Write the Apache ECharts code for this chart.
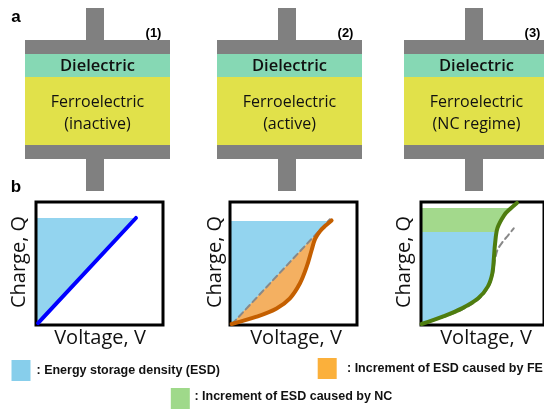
<!DOCTYPE html>
<html><head><meta charset="utf-8">
<script src="https://cdn.jsdelivr.net/npm/echarts@6/dist/echarts.min.js"></script>
<style>html,body{margin:0;padding:0;background:#fff}#c{width:544px;height:409px}</style>
</head><body><div id="c"></div><script>
// ---- text content ----
const panelLetters = ['a', 'b'];
const capLabels = ['(1)', '(2)', '(3)'];
const feStates = ['(inactive)', '(active)', '(NC regime)'];
const layerNames = ['Dielectric', 'Ferroelectric'];
const xAxisTitle = 'Voltage, V';
const yAxisTitle = 'Charge, Q';
const legendTexts = [': Energy storage density (ESD)', ': Increment of ESD caused by FE', ': Increment of ESD caused by NC'];

// ---- data (axes 0..100 in each panel) ----
const linearQV1 = [[1.6, 1.6], [78.7, 87]];
const esdTop1 = 87;

const dashedLinear2 = [[1.6, 0.8], [78.7, 86]];
const feCurve2 = [[1.3, 0.8], [21, 6.8], [36.7, 13.5], [47.2, 21.7], [55.1, 33.9], [60.4, 47.4], [64.3, 61], [67, 70], [71, 76.5], [75.5, 81], [80, 85]];
const esdTop2 = 84.6;

const ncCurve3 = [[0.5, 0.8], [17.6, 6.8], [33.3, 13.5], [46.5, 21.7], [54.3, 31.2], [58, 42], [59.3, 55], [60.2, 66], [62.2, 78.9], [67.7, 89.4], [72.4, 94.3], [78, 99.2]];
const dashedFE3 = [[0.5, 0.8], [17.6, 6.2], [33.3, 12.5], [46.5, 20.8], [54.8, 31], [58.6, 42], [60, 52], [62.2, 61], [66, 67], [70.5, 72.5], [75.4, 78.6]];
const esdTop3 = 75.6;
const ncTop3 = 95.1;

// ---- colors ----
const C = {
  plate: '#808080', diel: '#86d8b4', fe: '#e1e14a',
  blueFill: '#93d4ef', orangeFill: '#f4b061', greenFill: '#a3d98c',
  blueLeg: '#87ceeb', orangeLeg: '#fbb03b', greenLeg: '#9fd98a',
  blueLine: '#0000ff', orangeLine: '#c45f00', greenLine: '#4e7d0f', dash: '#888888'
};

function xAtY(curve, y) {
  for (let i = 0; i < curve.length - 1; i++) {
    const a = curve[i], b = curve[i + 1];
    if ((a[1] <= y && b[1] >= y)) {
      const t = (y - a[1]) / (b[1] - a[1] || 1);
      return a[0] + t * (b[0] - a[0]);
    }
  }
  return curve[curve.length - 1][0];
}
function leftRegion(curve, y0, y1) {
  const pts = [[0, y0], [xAtY(curve, y0), y0]];
  curve.forEach(p => { if (p[1] > y0 && p[1] < y1) pts.push(p); });
  pts.push([xAtY(curve, y1), y1]);
  pts.push([0, y1]);
  return pts;
}

const chart = echarts.init(document.getElementById('c'), null, {renderer: 'canvas'});

const gridLefts = [36, 230, 421];
const grids = gridLefts.map(l => ({left: l, top: 202, width: 127, height: 123, show: true, borderColor: '#000', borderWidth: 3, z: 5}));
const xAxes = gridLefts.map((l, i) => ({gridIndex: i, type: 'value', min: 0, max: 100, show: false}));
const yAxes = gridLefts.map((l, i) => ({gridIndex: i, type: 'value', min: 0, max: 100, show: false}));

function poly(idx, pts, color) {
  return {
    type: 'custom', xAxisIndex: idx, yAxisIndex: idx, z: 1, silent: true, data: [[0, 0]],
    renderItem: (params, api) => ({type: 'polygon', shape: {points: pts.map(p => api.coord(p))}, style: {fill: color}})
  };
}
function line(idx, data, color, width, dashed, smooth) {
  return {
    type: 'line', xAxisIndex: idx, yAxisIndex: idx, data: data, symbol: 'none', clip: false, z: dashed ? 9 : 10,
    smooth: smooth || false, silent: true,
    lineStyle: {color: color, width: width, type: dashed ? [6, 4] : 'solid', cap: 'round'}
  };
}

const series = [
  poly(0, leftRegion(linearQV1, linearQV1[0][1], esdTop1), C.blueFill),
  line(0, linearQV1, C.blueLine, 4, false),
  poly(1, leftRegion(dashedLinear2, dashedLinear2[0][1], esdTop2), C.blueFill),
  poly(1, feCurve2.concat([dashedLinear2[1]]), C.orangeFill),
  line(1, dashedLinear2, C.dash, 2, true),
  line(1, feCurve2, C.orangeLine, 4, false, 0.35),
  poly(2, leftRegion(ncCurve3, ncCurve3[0][1], esdTop3), C.blueFill),
  poly(2, leftRegion(ncCurve3, esdTop3, ncTop3), C.greenFill),
  line(2, dashedFE3, C.dash, 2, true, 0.35),
  line(2, ncCurve3, C.greenLine, 4, false, 0.35)
];

// ---- diagram graphics ----
const g = [];
const capLefts = [25, 217, 404];
capLefts.forEach((L, i) => {
  g.push({type: 'rect', shape: {x: L + 61, y: 8, width: 18, height: 32}, style: {fill: C.plate}});
  g.push({type: 'rect', shape: {x: L, y: 40, width: 145, height: 14}, style: {fill: C.plate}});
  g.push({type: 'rect', shape: {x: L, y: 54, width: 145, height: 23}, style: {fill: C.diel}});
  g.push({type: 'rect', shape: {x: L, y: 77, width: 145, height: 68}, style: {fill: C.fe}});
  g.push({type: 'rect', shape: {x: L, y: 145, width: 145, height: 14}, style: {fill: C.plate}});
  g.push({type: 'rect', shape: {x: L + 61, y: 159, width: 18, height: 32}, style: {fill: C.plate}});
  g.push({type: 'text', x: L + 72.5, y: 66, style: {text: layerNames[0], fill: '#111', font: '600 16.5px "Open Sans"', align: 'center', verticalAlign: 'middle', textAlign: 'center', textVerticalAlign: 'middle'}});
  g.push({type: 'text', x: L + 72.5, y: 102, style: {text: layerNames[1], fill: '#111', font: '16px "Open Sans"', align: 'center', verticalAlign: 'middle', textAlign: 'center', textVerticalAlign: 'middle'}});
  g.push({type: 'text', x: L + 72.5, y: 124, style: {text: feStates[i], fill: '#111', font: '16px "Open Sans"', align: 'center', verticalAlign: 'middle', textAlign: 'center', textVerticalAlign: 'middle'}});
  g.push({type: 'text', x: L + 128.5, y: 33, style: {text: capLabels[i], fill: '#000', font: 'bold 13px "Liberation Sans"', align: 'center', verticalAlign: 'middle', textAlign: 'center', textVerticalAlign: 'middle'}});
});
g.push({type: 'text', x: 16, y: 17, style: {text: panelLetters[0], fill: '#000', font: 'bold 17px "Liberation Sans"', align: 'center', verticalAlign: 'middle', textAlign: 'center', textVerticalAlign: 'middle'}});
g.push({type: 'text', x: 16, y: 187, style: {text: panelLetters[1], fill: '#000', font: 'bold 17px "Liberation Sans"', align: 'center', verticalAlign: 'middle', textAlign: 'center', textVerticalAlign: 'middle'}});

// axis titles
const yTitleX = [19.5, 215, 404.5];
const xTitleX = [100, 296, 486];
gridLefts.forEach((l, i) => {
  g.push({type: 'text', x: xTitleX[i], y: 338, style: {text: xAxisTitle, fill: '#111', font: '20px "Open Sans"', align: 'center', verticalAlign: 'middle', textAlign: 'center', textVerticalAlign: 'middle'}});
  g.push({type: 'text', x: yTitleX[i], y: 262, rotation: Math.PI / 2, style: {text: yAxisTitle, fill: '#111', font: '20px "Open Sans"', align: 'center', verticalAlign: 'middle', textAlign: 'center', textVerticalAlign: 'middle'}});
});

// legend
const legBoxes = [[11.5, 360, C.blueLeg], [317.7, 358, C.orangeLeg], [170.8, 388, C.greenLeg]];
const legTextPos = [[36.5, 370.5], [347, 369], [194.4, 397]];
legBoxes.forEach((b, i) => {
  g.push({type: 'rect', shape: {x: b[0], y: b[1], width: 19, height: 21}, style: {fill: b[2]}});
  g.push({type: 'text', x: legTextPos[i][0], y: legTextPos[i][1], style: {text: legendTexts[i], fill: '#111', font: 'bold 12.5px "Liberation Sans"', align: 'left', verticalAlign: 'middle', textAlign: 'left', textVerticalAlign: 'middle'}});
});

chart.setOption({
  animation: false,
  backgroundColor: '#fff',
  grid: grids, xAxis: xAxes, yAxis: yAxes,
  series: series,
  graphic: {elements: g}
});
</script></body></html>
